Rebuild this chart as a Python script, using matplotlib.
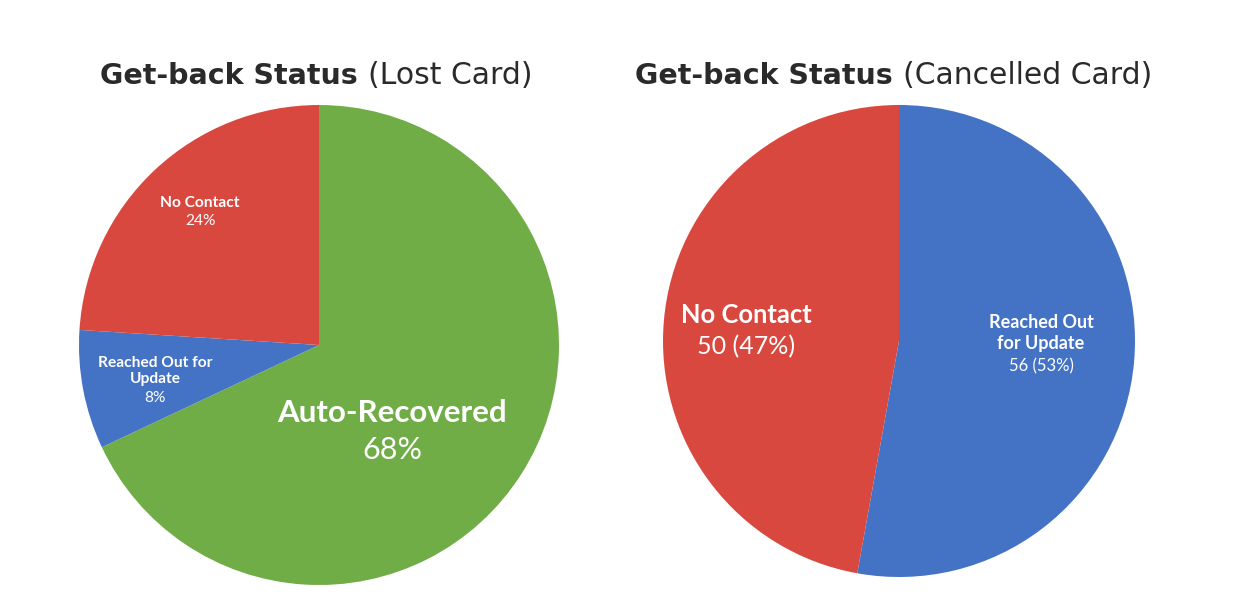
import matplotlib.pyplot as plt

# left chart: lost cards
lost_labels = ["Auto-Recovered", "Reached Out for\nUpdate", "No Contact"]
lost_values = [68, 8, 24]
lost_colors = ["#70AD47", "#4472C4", "#D9483F"]

# right chart: cancelled cards
canc_labels = ["Reached Out\nfor Update", "No Contact"]
canc_values = [56, 50]
canc_colors = ["#4472C4", "#D9483F"]

W, H = 1255, 606
fig = plt.figure(figsize=(W / 100, H / 100), dpi=100)
ax = fig.add_axes([0, 0, 1, 1])

def py(y):
    # pixel row from top -> data y
    return H - y

ax.pie(lost_values, colors=lost_colors, startangle=90, counterclock=False,
       center=(319, py(345)), radius=240, frame=True,
       wedgeprops=dict(linewidth=0))
ax.pie(canc_values, colors=canc_colors, startangle=90, counterclock=False,
       center=(899, py(341)), radius=236, frame=True,
       wedgeprops=dict(linewidth=0))
ax.set_xlim(0, W)
ax.set_ylim(0, H)
ax.set_aspect("equal")
ax.axis("off")

lato = "Lato"
white = "white"

def label(x, y_name, y_val, name, value, size_name, size_val, ls=1.2):
    ax.text(x, py(y_name), name, ha="center", va="center", color=white,
            fontfamily=lato, fontweight="bold", fontsize=size_name,
            linespacing=ls)
    ax.text(x, py(y_val), value, ha="center", va="center",
            color=white, fontfamily=lato, fontsize=size_val)

label(200, 203, 221, lost_labels[2], f"{lost_values[2]}%", 11.2, 11.2)
label(155, 371, 398, lost_labels[1], f"{lost_values[1]}%", 11.2, 11.2)
label(392, 413, 450, lost_labels[0], f"{lost_values[0]}%", 22.5, 22)

tot = sum(canc_values)
label(746, 315, 347, canc_labels[1],
      f"{canc_values[1]} ({round(100 * canc_values[1] / tot)}%)", 18.4, 18)
label(1041, 333, 366, canc_labels[0],
      f"{canc_values[0]} ({round(100 * canc_values[0] / tot)}%)", 13, 12, 1.25)

title_color = "#2a2a2a"
for xs, sub in [(358, "(Lost Card)"), (893, "(Cancelled Card)")]:
    ax.text(xs, py(84), "Get-back Status", ha="right", va="baseline",
            fontsize=20.5, fontweight="bold", color=title_color,
            fontfamily="DejaVu Sans")
    ax.text(xs + 10, py(84), sub, ha="left", va="baseline",
            fontsize=21.5, color=title_color, fontfamily="DejaVu Sans")

fig.savefig("out.png", dpi=100, facecolor="white")
